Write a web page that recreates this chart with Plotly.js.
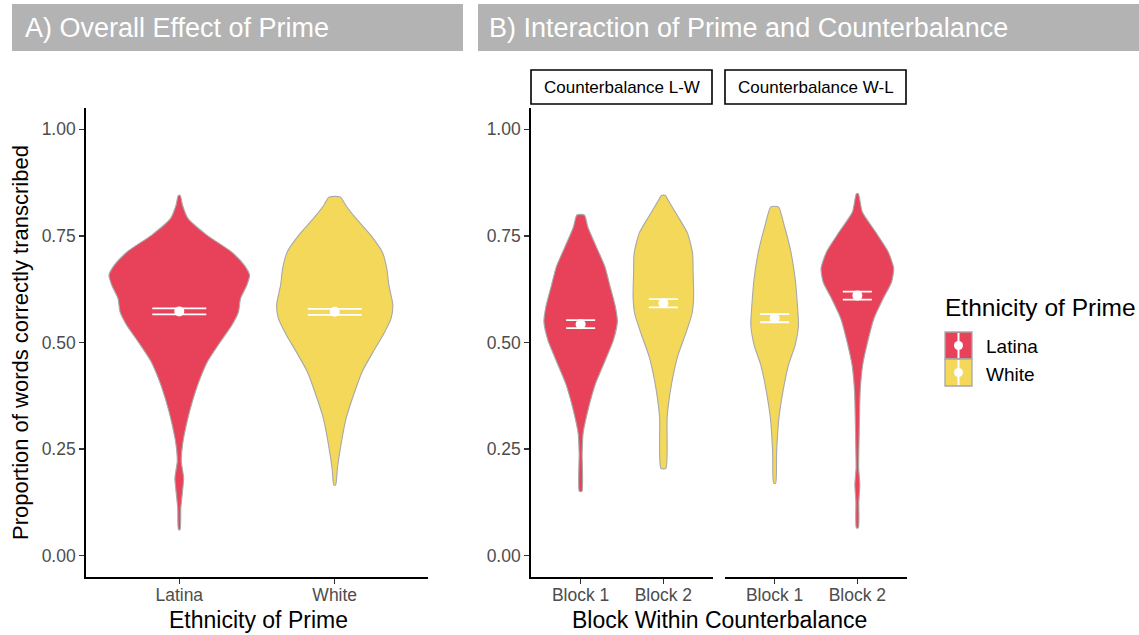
<!DOCTYPE html>
<html><head><meta charset="utf-8">
<script src="https://cdn.plot.ly/plotly-3.0.1.min.js"></script>
<style>html,body{margin:0;padding:0;background:#fff}#plot{width:1139px;height:635px}</style>
</head><body><div id="plot"></div>
<script>
// ---------- DATA ----------
const primeCats = ['Latina', 'White'];
const blockCats = ['Block 1', 'Block 2'];
const facetNames = ['Counterbalance L-W', 'Counterbalance W-L'];
const yTicks = [0, 0.25, 0.5, 0.75, 1];

// Violin outlines: y levels and half-widths (category units)
const violinA_Latina_y  = [0.845,0.822,0.791,0.752,0.713,0.681,0.658,0.635,0.603,0.572,0.541,0.502,0.455,0.400,0.338,0.276,0.244,0.221,0.182,0.151,0.112,0.061];
const violinA_Latina_hw = [0.006,0.021,0.056,0.177,0.334,0.419,0.452,0.435,0.394,0.381,0.339,0.265,0.181,0.118,0.066,0.028,0.016,0.013,0.028,0.021,0.010,0.005];
const violinA_White_y   = [0.841,0.822,0.791,0.752,0.713,0.674,0.635,0.588,0.557,0.518,0.478,0.432,0.385,0.322,0.260,0.205,0.166];
const violinA_White_hw  = [0.037,0.070,0.137,0.231,0.305,0.335,0.348,0.374,0.363,0.312,0.247,0.177,0.129,0.073,0.040,0.017,0.006];

const violinLW_B1_y  = [0.799,0.771,0.732,0.678,0.631,0.584,0.549,0.506,0.459,0.404,0.350,0.287,0.240,0.151];
const violinLW_B1_hw = [0.045,0.087,0.172,0.293,0.357,0.420,0.444,0.397,0.299,0.181,0.100,0.030,0.018,0.016];
const violinLW_B2_y  = [0.845,0.834,0.795,0.756,0.709,0.662,0.607,0.568,0.522,0.467,0.404,0.326,0.205];
const violinLW_B2_hw = [0.024,0.057,0.178,0.293,0.353,0.360,0.366,0.347,0.272,0.172,0.100,0.046,0.030];
const violinWL_B1_y  = [0.818,0.775,0.713,0.650,0.596,0.541,0.494,0.447,0.385,0.322,0.244,0.170];
const violinWL_B1_hw = [0.046,0.115,0.196,0.248,0.272,0.288,0.248,0.167,0.100,0.051,0.024,0.012];
const violinWL_B2_y  = [0.849,0.806,0.759,0.713,0.674,0.642,0.603,0.557,0.502,0.447,0.385,0.307,0.244,0.205,0.166,0.127,0.065];
const violinWL_B2_hw = [0.012,0.060,0.221,0.372,0.439,0.414,0.312,0.202,0.125,0.064,0.034,0.024,0.018,0.016,0.030,0.018,0.012];

// Means and error half-lengths
const meansA = [0.573, 0.572];
const errA   = [0.007, 0.007];
const meansLW = [0.543, 0.592];   // Block1 Latina, Block2 White
const errLW   = [0.0095, 0.0095];
const meansWL = [0.557, 0.610];   // Block1 White, Block2 Latina
const errWL   = [0.0095, 0.0095];

// ---------- STYLE ----------
const W = 1139, H = 635;
const RED = '#E8425A', YEL = '#F4D85A', OUT = '#A8A8A8';
const FONT = 'Liberation Sans, Arial, Helvetica, sans-serif';
const px = x => x / W, py = y => 1 - y / H;

function violin(center, ys, hws, color, xa, ya) {
  const xr = ys.map((y, i) => center + hws[i]);
  const xl = ys.map((y, i) => center - hws[i]).reverse();
  const yy = ys.concat(ys.slice().reverse());
  const xx = xr.concat(xl);
  xx.push(xx[0]); yy.push(yy[0]);
  return {x: xx, y: yy, xaxis: xa, yaxis: ya, type: 'scatter', mode: 'lines',
    fill: 'toself', fillcolor: color, line: {color: OUT, width: 1.1, shape: 'spline', smoothing: 0.6},
    hoverinfo: 'skip', showlegend: false};
}
function means(xs, ys, errs, xa, ya, capw) {
  return {x: xs, y: ys, xaxis: xa, yaxis: ya, type: 'scatter', mode: 'markers',
    marker: {color: 'white', size: 10},
    error_y: {type: 'data', array: errs, color: 'white', thickness: 1.8, width: capw},
    showlegend: false, hoverinfo: 'skip'};
}

const traces = [
  violin(1, violinA_Latina_y, violinA_Latina_hw, RED, 'x', 'y'),
  violin(2, violinA_White_y, violinA_White_hw, YEL, 'x', 'y'),
  violin(1, violinLW_B1_y, violinLW_B1_hw, RED, 'x2', 'y2'),
  violin(2, violinLW_B2_y, violinLW_B2_hw, YEL, 'x2', 'y2'),
  violin(1, violinWL_B1_y, violinWL_B1_hw, YEL, 'x3', 'y2'),
  violin(2, violinWL_B2_y, violinWL_B2_hw, RED, 'x3', 'y2'),
  means([1, 2], meansA, errA, 'x', 'y', 27),
  means([1, 2], meansLW, errLW, 'x2', 'y2', 14.5),
  means([1, 2], meansWL, errWL, 'x3', 'y2', 14.5)
];

const axBase = {showline: true, linecolor: 'black', linewidth: 1.8, ticks: 'outside',
  ticklen: 5, tickwidth: 1.2, tickcolor: '#333333', showgrid: false, zeroline: false,
  tickfont: {family: FONT, size: 17.5, color: '#4D4D4D'}, automargin: false, fixedrange: true};
const yDom = [py(577), py(108)];
const xExtra = {ticklabelstandoff: -4};
const xA = Object.assign({}, axBase, xExtra, {domain: [px(86), px(428)], range: [0.4, 2.6], tickvals: [1, 2], ticktext: primeCats, anchor: 'y'});
const xB1 = Object.assign({}, axBase, xExtra, {domain: [px(531), px(713)], range: [0.4, 2.6], tickvals: [1, 2], ticktext: blockCats, anchor: 'y2'});
const xB2 = Object.assign({}, axBase, xExtra, {domain: [px(725), px(907)], range: [0.4, 2.6], tickvals: [1, 2], ticktext: blockCats, anchor: 'y2'});
const yA = Object.assign({}, axBase, {domain: yDom, range: [-0.05, 1.05], tickvals: yTicks, tickformat: '.2f', anchor: 'x'});
const yB = Object.assign({}, axBase, {domain: yDom, range: [-0.05, 1.05], tickvals: yTicks, tickformat: '.2f', anchor: 'x2'});

const shapes = [
  {type: 'rect', xref: 'paper', yref: 'paper', x0: px(12), x1: px(463), y0: py(51), y1: py(4), fillcolor: '#B3B3B3', line: {width: 0}, layer: 'below'},
  {type: 'rect', xref: 'paper', yref: 'paper', x0: px(478), x1: px(1139), y0: py(51), y1: py(4), fillcolor: '#B3B3B3', line: {width: 0}, layer: 'below'},
  {type: 'rect', xref: 'paper', yref: 'paper', x0: px(531), x1: px(712), y0: py(104), y1: py(70), fillcolor: 'white', line: {color: 'black', width: 1.6}},
  {type: 'rect', xref: 'paper', yref: 'paper', x0: px(725), x1: px(906), y0: py(104), y1: py(70), fillcolor: 'white', line: {color: 'black', width: 1.6}},
  // legend keys
  {type: 'rect', xref: 'paper', yref: 'paper', x0: px(945), x1: px(972), y0: py(359), y1: py(332), fillcolor: RED, line: {color: OUT, width: 1.3}},
  {type: 'rect', xref: 'paper', yref: 'paper', x0: px(945), x1: px(972), y0: py(386), y1: py(359), fillcolor: YEL, line: {color: OUT, width: 1.3}},
  {type: 'line', xref: 'paper', yref: 'paper', x0: px(958.5), x1: px(958.5), y0: py(358), y1: py(333), line: {color: 'white', width: 2}},
  {type: 'line', xref: 'paper', yref: 'paper', x0: px(958.5), x1: px(958.5), y0: py(385), y1: py(360), line: {color: 'white', width: 2}},
  {type: 'circle', xref: 'paper', yref: 'paper', x0: px(954), x1: px(963), y0: py(350), y1: py(341), fillcolor: 'white', line: {width: 0}},
  {type: 'circle', xref: 'paper', yref: 'paper', x0: px(954), x1: px(963), y0: py(377), y1: py(368), fillcolor: 'white', line: {width: 0}}
];

function ann(text, x, y, size, color, xanchor, extra) {
  return Object.assign({text: text, xref: 'paper', yref: 'paper', x: px(x), y: py(y), showarrow: false,
    xanchor: xanchor || 'center', yanchor: 'middle', font: {family: FONT, size: size, color: color}}, extra || {});
}
const annotations = [
  ann('A) Overall Effect of Prime', 23, 28, 27, 'white', 'left'),
  ann('B) Interaction of Prime and Counterbalance', 487, 28, 27, 'white', 'left'),
  ann(facetNames[0], 621.5, 87, 17, 'black'),
  ann(facetNames[1], 815.5, 87, 17, 'black'),
  ann('Proportion of words correctly transcribed', 21, 343, 22, 'black', 'center', {textangle: -90}),
  ann('Ethnicity of Prime', 258, 620, 23, 'black'),
  ann('Block Within Counterbalance', 719, 620, 23, 'black'),
  ann('Ethnicity of Prime', 943, 308, 24.5, 'black', 'left'),
  ann(primeCats[0], 984, 346, 19, 'black', 'left'),
  ann(primeCats[1], 984, 374, 19, 'black', 'left')
];

const layout = {
  width: W, height: H, margin: {l: 0, r: 0, t: 0, b: 0}, autosize: false,
  paper_bgcolor: 'white', plot_bgcolor: 'rgba(0,0,0,0)', showlegend: false,
  font: {family: FONT},
  xaxis: xA, yaxis: yA, xaxis2: xB1, xaxis3: xB2, yaxis2: yB,
  shapes: shapes, annotations: annotations
};
Plotly.newPlot('plot', traces, layout, {displayModeBar: false, staticPlot: true});
</script></body></html>
